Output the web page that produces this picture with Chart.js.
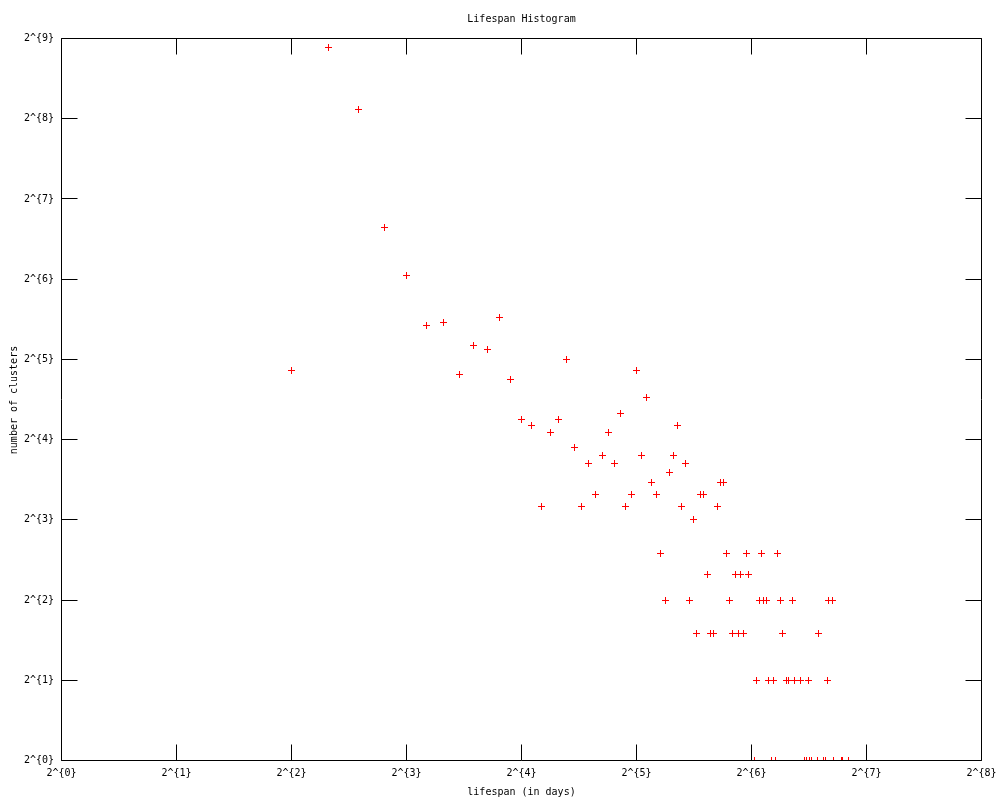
<!DOCTYPE html>
<html>
<head>
<meta charset="utf-8">
<title>Lifespan Histogram</title>
<script src="https://cdn.jsdelivr.net/npm/chart.js@4.4.1/dist/chart.umd.min.js"></script>
<style>
  html, body { margin: 0; padding: 0; background: #fff; }
  #wrap { width: 1000px; height: 800px; }
</style>
</head>
<body>
<div id="wrap"><canvas id="lifespanChart" width="1000" height="800"></canvas></div>
<script>
// lifespan in days, and how many clusters had that lifespan
const lifespanDays = [
  4, 5, 6, 7, 8, 9, 10, 11, 12, 13, 14, 15,
  16, 17, 18, 19, 20, 21, 22, 23, 24, 25, 26, 27, 28, 29, 30, 31,
  32, 33, 34, 35, 36, 37, 38, 39, 40, 41, 42, 43, 44, 45, 46, 47,
  48, 49, 50, 51, 52, 53, 54, 55, 56, 57, 58, 59, 60, 61, 62, 63,
  65, 66, 67, 68, 69, 70, 71, 72, 73, 74, 75, 76, 77, 79, 80, 82,
  83, 86, 88, 89, 90, 91, 92, 95, 96, 99, 100, 101, 102, 104, 105,
  110, 111, 115
];
const clusterCounts = [
  29, 474, 277, 100, 66, 43, 44, 28, 36, 35, 46, 27,
  19, 18, 9, 17, 19, 32, 15, 9, 13, 10, 14, 17, 13, 20, 9, 10,
  29, 14, 23, 11, 10, 6, 4, 12, 14, 18, 9, 13, 4, 8, 3, 10,
  10, 5, 3, 3, 9, 11, 11, 6, 4, 3, 5, 3, 5, 3, 6, 5,
  1, 2, 4, 6, 4, 4, 2, 1, 2, 1, 6, 4, 3, 2, 2, 4,
  2, 2, 1, 1, 2, 1, 1, 1, 3, 1, 1, 2, 4, 4, 1,
  1, 1, 1
];

// axis ticks (powers of two)
const xTickExps = [0, 1, 2, 3, 4, 5, 6, 7, 8];
const yTickExps = [0, 1, 2, 3, 4, 5, 6, 7, 8, 9];
const xTickLabels = xTickExps.map(e => `2^{${e}}`);
const yTickLabels = yTickExps.map(e => `2^{${e}}`);

const chartTitle = "Lifespan Histogram";
const xTitle = "lifespan (in days)";
const yTitle = "number of clusters";

const FONT = '10px "DejaVu Sans Mono", "Liberation Mono", monospace';

// crisp 7x7 "+" like gnuplot's point type 1
const plusMark = document.createElement("canvas");
plusMark.width = 7;
plusMark.height = 7;
(() => {
  const c = plusMark.getContext("2d");
  c.fillStyle = "#ff0000";
  c.fillRect(3, 0, 1, 7);
  c.fillRect(0, 3, 7, 1);
})();

const crisp = v => Math.floor(v) + 0.5;

// gnuplot style frame: box, inward ticks on all four sides, labels
const gnuplotFrame = {
  id: "gnuplotFrame",
  beforeDatasetsDraw(chart) {
    chart.ctx.imageSmoothingEnabled = false;
  },
  afterDatasetsDraw(chart) {
    const { ctx, chartArea: a, scales } = chart;
    const tick = 16;
    ctx.imageSmoothingEnabled = true;
    ctx.save();
    ctx.strokeStyle = "#000";
    ctx.lineWidth = 1;
    ctx.beginPath();
    ctx.rect(a.left, a.top, a.right - a.left, a.bottom - a.top);

    xTickExps.forEach(e => {
      const x = crisp(scales.x.getPixelForValue(2 ** e));
      ctx.moveTo(x, a.bottom); ctx.lineTo(x, a.bottom - tick);
      ctx.moveTo(x, a.top); ctx.lineTo(x, a.top + tick);
    });
    yTickExps.forEach(e => {
      const y = crisp(scales.y.getPixelForValue(2 ** e));
      ctx.moveTo(a.left, y); ctx.lineTo(a.left + tick, y);
      ctx.moveTo(a.right, y); ctx.lineTo(a.right - tick, y);
    });
    ctx.stroke();

    ctx.fillStyle = "#000";
    ctx.font = FONT;
    ctx.textBaseline = "middle";

    ctx.textAlign = "center";
    xTickExps.forEach((e, i) => {
      ctx.fillText(xTickLabels[i], scales.x.getPixelForValue(2 ** e), 773);
    });
    ctx.textAlign = "right";
    yTickExps.forEach((e, i) => {
      ctx.fillText(yTickLabels[i], 54, scales.y.getPixelForValue(2 ** e));
    });

    ctx.textAlign = "center";
    const midX = (a.left + a.right) / 2;
    ctx.fillText(chartTitle, midX, 19);
    ctx.fillText(xTitle, midX, 792);

    ctx.translate(14, 400);
    ctx.rotate(-Math.PI / 2);
    ctx.fillText(yTitle, 0, 0);
    ctx.restore();
  }
};

const points = lifespanDays.map((d, i) => ({ x: d, y: clusterCounts[i] }));

new Chart(document.getElementById("lifespanChart"), {
  type: "scatter",
  data: {
    datasets: [{
      label: "clusters",
      data: points,
      pointStyle: plusMark,
      pointRadius: 3.5,
      borderColor: "#ff0000",
      backgroundColor: "#ff0000",
      borderWidth: 1,
      clip: { left: 10, top: 10, right: 10, bottom: 0 }
    }]
  },
  options: {
    responsive: false,
    animation: false,
    events: [],
    layout: { padding: { left: 61.5, top: 38.5, right: 18.5, bottom: 39.5 } },
    plugins: {
      legend: { display: false },
      title: { display: false },
      tooltip: { enabled: false }
    },
    scales: {
      x: { type: "logarithmic", min: 1, max: 256, display: false },
      y: { type: "logarithmic", min: 1, max: 512, display: false }
    }
  },
  plugins: [gnuplotFrame]
});
</script>
</body>
</html>
